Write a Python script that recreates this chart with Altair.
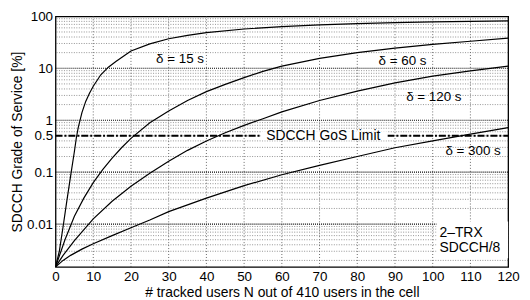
import altair as alt
import pandas as pd

# ---- data ----
x15 = [0, 1, 2, 3, 4, 5, 5.5, 6, 7, 8, 9, 10, 12, 14, 16, 18, 20, 25, 30, 35, 40, 50, 60, 70, 80, 90, 100, 110, 120]
g15 = [0.0015, 0.003, 0.0089, 0.028, 0.085, 0.25, 0.45, 0.71, 1.4, 2.3, 3.3, 4.5, 7.5, 10.5, 13.5, 17, 21.5, 29.5, 37, 43, 48.5, 57, 63.5, 68.5, 72.5, 75.5, 78, 80, 81.5]

x60 = [0, 2.5, 5, 7.5, 10, 12.5, 15, 17.5, 20, 25, 30, 35, 40, 45, 50, 55, 60, 70, 80, 90, 100, 110, 120]
g60 = [0.0015, 0.005, 0.0141, 0.0316, 0.063, 0.112, 0.186, 0.295, 0.447, 0.891, 1.51, 2.4, 3.55, 4.9, 6.6, 8.7, 11, 15.5, 20, 24.5, 28.8, 33.1, 38]

x120 = [0, 2, 5, 10, 15, 20, 25, 30, 35, 40, 45, 50, 55, 60, 70, 80, 90, 100, 110, 120]
g120 = [0.0015, 0.0025, 0.0048, 0.0126, 0.0275, 0.0537, 0.0955, 0.162, 0.263, 0.398, 0.575, 0.794, 1.07, 1.45, 2.4, 3.63, 5.25, 7.08, 8.91, 10.96]

x300 = [0, 2, 4, 7, 10, 15, 20, 25, 30, 35, 40, 45, 50, 60, 70, 80, 90, 100, 110, 120]
g300 = [0.0015, 0.002, 0.0025, 0.0033, 0.0042, 0.006, 0.0085, 0.012, 0.0174, 0.0234, 0.0316, 0.0417, 0.055, 0.089, 0.135, 0.20, 0.295, 0.40, 0.54, 0.72]

x_ticks = [0, 10, 20, 30, 40, 50, 60, 70, 80, 90, 100, 110, 120]
y_ticks = [0.01, 0.1, 0.5, 1, 10, 100]
y_major = [0.01, 0.1, 1, 10]
y_minor = [k * 10 ** d for d in range(-3, 2) for k in range(2, 10) if k * 10 ** d >= 0.0015]
x_grid = [10, 20, 30, 40, 50, 60, 70, 80, 90, 100, 110]

gos_limit = 0.5
gos_segments_x = [0, 88]
gos_segments_x2 = [54.5, 120]

curve_labels = ["δ = 15 s", "δ = 60 s", "δ = 120 s", "δ = 300 s"]
label_x = [33, 92, 100.3, 110.7]
label_y = [15, 14, 2.8, 0.25]

FONT = "Liberation Sans"

rows = []
for name, xs, gs in [("15", x15, g15), ("60", x60, g60), ("120", x120, g120), ("300", x300, g300)]:
    for a, b in zip(xs, gs):
        rows.append({"delta": name, "x": a, "g": b})
curves = pd.DataFrame(rows)

xs_ = alt.Scale(domain=[0, 120], nice=False, zero=False)
ys_ = alt.Scale(type="log", domain=[0.0015, 100], nice=False)

xaxis = alt.Axis(values=x_ticks, title="# tracked users N out of 410 users in the cell",
                 labelPadding=3, titlePadding=2, labelFlush=False)
yaxis = alt.Axis(values=y_ticks, format="~g", title="SDCCH Grade of Service [%]",
                 labelPadding=3, titlePadding=2)

X = lambda f: alt.X(f, type="quantitative", scale=xs_, axis=xaxis)
Y = lambda f: alt.Y(f, type="quantitative", scale=ys_, axis=yaxis)

vgrid = alt.Chart(pd.DataFrame({"x": x_grid})).mark_rule(
    color="#444", strokeDash=[1, 2], strokeWidth=0.8
).encode(x=X("x"))

hminor = alt.Chart(pd.DataFrame({"g": y_minor})).mark_rule(
    color="#666", strokeDash=[1, 1.5], strokeWidth=0.7
).encode(y=Y("g"))

hmajor = alt.Chart(pd.DataFrame({"g": y_major})).mark_rule(
    color="#000", strokeDash=[1, 1], strokeWidth=1.1
).encode(y=Y("g"))

gos = alt.Chart(pd.DataFrame({"x": gos_segments_x, "x2": gos_segments_x2, "g": [gos_limit, gos_limit]})).mark_rule(
    color="black", strokeWidth=2, strokeDash=[7, 2, 2, 2]
).encode(x=X("x"), x2="x2", y=Y("g"))

gos_box = alt.Chart(pd.DataFrame({"x": [54.5], "x2": [88], "g": [0.41], "g2": [0.61]})).mark_rect(
    color="white"
).encode(x=X("x"), x2="x2", y=Y("g"), y2="g2")

gos_text = alt.Chart(pd.DataFrame({"x": [71], "g": [gos_limit], "t": ["SDCCH GoS Limit"]})).mark_text(
    font=FONT, fontSize=14, color="black", align="center", baseline="middle"
).encode(x=X("x"), y=Y("g"), text="t:N")

trx_box = alt.Chart(pd.DataFrame({"x": [101], "x2": [120], "g": [0.0022], "g2": [0.0112]})).mark_rect(
    color="white"
).encode(x=X("x"), x2="x2", y=Y("g"), y2="g2")

trx_text = alt.Chart(pd.DataFrame({"x": [101.8, 101.8], "g": [0.0068, 0.0035], "t": ["2–TRX", "SDCCH/8"]})).mark_text(
    font=FONT, fontSize=14, color="black", align="left", baseline="middle"
).encode(x=X("x"), y=Y("g"), text="t:N")

lines = alt.Chart(curves).mark_line(color="black", strokeWidth=1.2, clip=True).encode(
    x=X("x"), y=Y("g"), detail="delta:N", order="x:Q"
)

labels = alt.Chart(pd.DataFrame({"x": label_x, "g": label_y, "t": curve_labels})).mark_text(
    font=FONT, fontSize=13.5, color="black", align="center", baseline="middle"
).encode(x=X("x"), y=Y("g"), text="t:N")

chart = alt.layer(
    vgrid, hminor, hmajor, gos, gos_box, trx_box, lines, gos_text, trx_text, labels
).properties(
    width=457, height=253,
    autosize=alt.AutoSizeParams(type="none"),
    padding={"left": 48, "top": 7, "right": 14, "bottom": 31},
).configure_axis(
    labelFont=FONT, titleFont=FONT, labelFontSize=13.5, titleFontSize=14,
    labelColor="black", titleColor="black", titleFontWeight="normal",
    domain=False, ticks=False, grid=False
).configure_view(stroke="black", strokeWidth=1.3)

chart.save("out.html", embed_options={"renderer": "svg", "actions": False})
